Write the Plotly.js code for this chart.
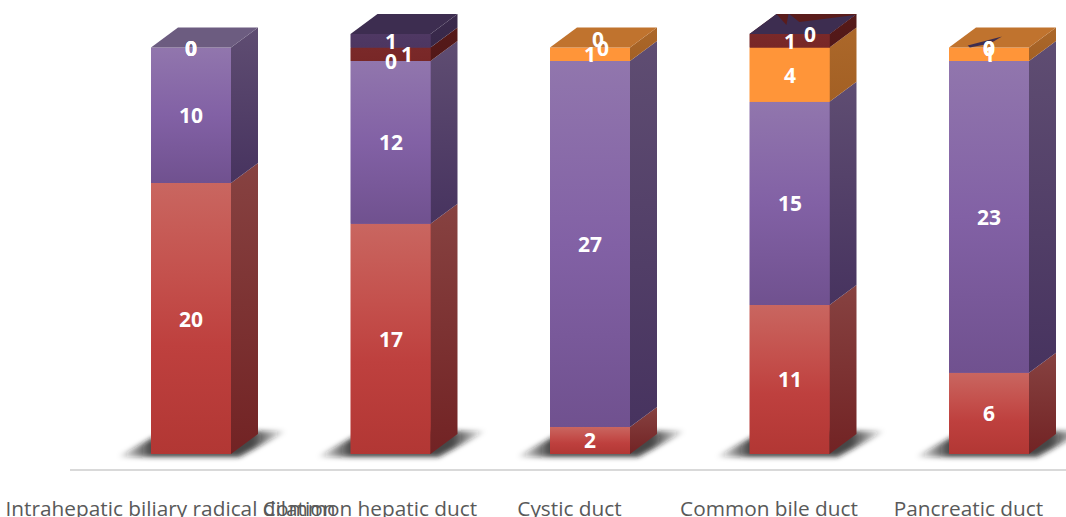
<!DOCTYPE html>
<html>
<head>
<meta charset="utf-8">
<script src="https://cdn.plot.ly/plotly-3.0.1.min.js"></script>
<style>html,body{margin:0;padding:0;background:#fff;overflow:hidden}#chart{width:1066px;height:517px}</style>
</head>
<body>
<div id="chart"></div>
<script>
const categories = ['Intrahepatic biliary radical dilation', 'Common hepatic duct', 'Cystic duct', 'Common bile duct', 'Pancreatic duct'];
const redValues    = [20, 17, 2, 11, 6];
const purpleValues = [10, 12, 27, 15, 23];
const orangeValues = [0, 0, 1, 4, 1];
const maroonValues = [0, 1, 0, 1, 0];
const plumValues   = [0, 1, 0, 0, 0];

// Paint for each stacked series: front gradient, side gradient, lid colour.
const seriesStyles = [
  {values: redValues, base: '#BE4040',
   front: [[0, '#C96660'], [0.35, '#C4504C'], [0.6, '#BE403E'], [1, '#B23734']],
   side: ['#874241', '#722324'], top: '#8A4645'},
  {values: purpleValues, base: '#7F5FA2',
   front: [[0, '#9176AD'], [0.5, '#8261A5'], [1, '#70518F']],
   side: ['#5F4D72', '#47335F'], top: '#6C5C80'},
  {values: orangeValues, base: '#FF9539',
   front: [[0, '#FF9539'], [1, '#FF9539']],
   side: ['#AC682A', '#A36024'], top: '#C0732E'},
  {values: maroonValues, base: '#7A2929',
   front: [[0, '#7A2929'], [1, '#782727']],
   side: ['#561A19', '#521818'], top: '#5A1C1B'},
  {values: plumValues, base: '#4F3863',
   front: [[0, '#4F3863'], [1, '#4D3661']],
   side: ['#3A2A4C', '#38284A'], top: '#3D2D50'}
];

// Scale of the plot area, used to express the fake perspective in axis units.
const PX_PER_CATEGORY = 199.5;
const PX_PER_UNIT = 13.55;
const dxUnits = px => px / PX_PER_CATEGORY;
const dyUnits = px => px / PX_PER_UNIT;

const BAR_OFFSET = dxUnits(-19.5);
const BAR_WIDTH = dxUnits(80);
const DEPTH_X = dxUnits(27);
const DEPTH_Y = dyUnits(20);

function polygon(xs, ys, extra) {
  return Object.assign({
    type: 'scatter', mode: 'lines', x: xs, y: ys, fill: 'toself',
    line: {width: 0}, hoverinfo: 'skip', showlegend: false
  }, extra);
}
function solid(colour) { return {fillcolor: colour}; }
function gradient(stops, from, to) {
  return {fillgradient: {type: 'vertical', colorscale: stops, start: from, stop: to}};
}

const traces = [];

// Real stacked bars carry the series; the shaded faces below sit on top of them.
seriesStyles.forEach(s => traces.push({
  type: 'bar', x: categories.map((_, i) => i), y: s.values,
  width: BAR_WIDTH, offset: BAR_OFFSET,
  marker: {color: s.base, line: {width: 0}}, hoverinfo: 'skip', showlegend: false
}));

// Ground shadow under every bar, fading sideways; blurred once the plot is drawn.
const shadowStops = [
  [0, 'rgba(25,25,25,0)'], [0.2, 'rgba(25,25,25,0.8)'],
  [0.8, 'rgba(25,25,25,0.8)'], [1, 'rgba(25,25,25,0)']
];
categories.forEach((_, i) => {
  const L = i + BAR_OFFSET, R = L + BAR_WIDTH;
  const low = dyUnits(-3), high = dyUnits(23);
  const left = L + dxUnits(-34), right = R + dxUnits(56);
  traces.push(polygon(
    [left, R + dxUnits(8), right, L + dxUnits(14), left],
    [low, low, high, high, low],
    {fillgradient: {type: 'horizontal', colorscale: shadowStops, start: left, stop: right}}));
});

// Front and side faces of each stacked segment, then the lid of the stack.
categories.forEach((_, i) => {
  const L = i + BAR_OFFSET, R = L + BAR_WIDTH;
  let y0 = 0, lid = null;
  seriesStyles.forEach(s => {
    const v = s.values[i];
    if (!v) return;
    const y1 = y0 + v;
    traces.push(polygon([R, R + DEPTH_X, R + DEPTH_X, R, R], [y0, y0 + DEPTH_Y, y1 + DEPTH_Y, y1, y0],
      gradient([[0, s.side[0]], [1, s.side[1]]], y1 + DEPTH_Y, y0)));
    traces.push(polygon([L, R, R, L, L], [y0, y0, y1, y1, y0], gradient(s.front, y1, y0)));
    y0 = y1;
    lid = s;
  });
  traces.push(polygon([L, R, R + DEPTH_X, L + DEPTH_X, L], [y0, y0, y0 + DEPTH_Y, y0 + DEPTH_Y, y0], solid(lid.top)));
});

// Coplanar zero-height segments fight with the lid on two of the stacks.
// Each corner is [across, back] as a fraction of the lid.
const lidPatches = [
  {bar: 3, colour: '#3D2D50', corners: [[0, 0], [1, 0], [1, 1], [0, 1]]},
  {bar: 3, colour: '#5A1C1B', corners: [[0, 1], [0.31, 0.45], [0.15, 1]]},
  {bar: 3, colour: '#5A1C1B', corners: [[0.16, 1], [0.42, 0.6], [1, 0.95], [1, 1]]},
  {bar: 4, colour: '#3D2D50', corners: [[0.2, 0.1], [0.477, 0.55], [0.445, 0.2], [0.26, 0]]}
];
const stackTotal = i => seriesStyles.reduce((sum, s) => sum + s.values[i], 0);
lidPatches.forEach(p => {
  const L = p.bar + BAR_OFFSET, top = stackTotal(p.bar);
  const pts = p.corners.concat([p.corners[0]]);
  traces.push(polygon(
    pts.map(c => L + c[0] * BAR_WIDTH + c[1] * DEPTH_X),
    pts.map(c => top + c[1] * DEPTH_Y),
    solid(p.colour)));
});

// Hand-moved data labels: [series, bar] => pixel nudge from the segment centre.
const labelNudges = {
  '3,1': [16, 0], '3,2': [13, 0], '4,2': [8, -9], '4,3': [20, 0]
};
const annotations = [];
categories.forEach((_, i) => {
  let y0 = 0;
  seriesStyles.forEach((s, k) => {
    const v = s.values[i];
    const n = labelNudges[k + ',' + i] || [0, 0];
    annotations.push({
      x: i + BAR_OFFSET + BAR_WIDTH / 2, y: y0 + v / 2, text: String(v),
      showarrow: false, xanchor: 'center', yanchor: 'middle',
      xshift: n[0], yshift: -n[1],
      font: {family: '"Open Sans", Lato, sans-serif', size: 21, color: '#FFFFFF', weight: 700}
    });
    y0 += v;
  });
});

const layout = {
  width: 1066, height: 517,
  margin: {l: 70, r: 0, t: 0, b: 48},
  paper_bgcolor: '#FFFFFF', plot_bgcolor: '#FFFFFF',
  barmode: 'stack', showlegend: false,
  annotations: annotations,
  xaxis: {
    type: 'linear', range: [-100.5 / PX_PER_CATEGORY, (1066 - 170.5) / PX_PER_CATEGORY],
    tickmode: 'array', tickvals: categories.map((_, i) => i), ticktext: categories,
    tickangle: 0, ticks: '', ticklabelstandoff: 20,
    tickfont: {family: '"Open Sans", sans-serif', size: 20.8, color: '#595959'},
    showgrid: false, zeroline: false, showline: true, linecolor: '#D9D9D9', linewidth: 2,
    fixedrange: true
  },
  yaxis: {
    type: 'linear', range: [-15 / PX_PER_UNIT, 454 / PX_PER_UNIT],
    showticklabels: false, ticks: '', showgrid: false, zeroline: false, showline: false,
    fixedrange: true
  }
};

Plotly.newPlot('chart', traces, layout, {displayModeBar: false, responsive: false}).then(gd => {
  // Soften the ground shadow traces, the first ones in the scatter layer.
  const svg = gd.querySelector('.main-svg');
  const NS = 'http://www.w3.org/2000/svg';
  const defs = svg.querySelector('defs') || svg.insertBefore(document.createElementNS(NS, 'defs'), svg.firstChild);
  const filter = document.createElementNS(NS, 'filter');
  filter.setAttribute('id', 'groundBlur');
  filter.setAttribute('x', '-20%'); filter.setAttribute('y', '-60%');
  filter.setAttribute('width', '140%'); filter.setAttribute('height', '220%');
  const blur = document.createElementNS(NS, 'feGaussianBlur');
  blur.setAttribute('stdDeviation', '2.5');
  filter.appendChild(blur);
  defs.appendChild(filter);
  gd.querySelectorAll('.scatterlayer .trace').forEach((node, idx) => {
    if (idx < categories.length) node.setAttribute('filter', 'url(#groundBlur)');
  });
});
</script>
</body>
</html>
